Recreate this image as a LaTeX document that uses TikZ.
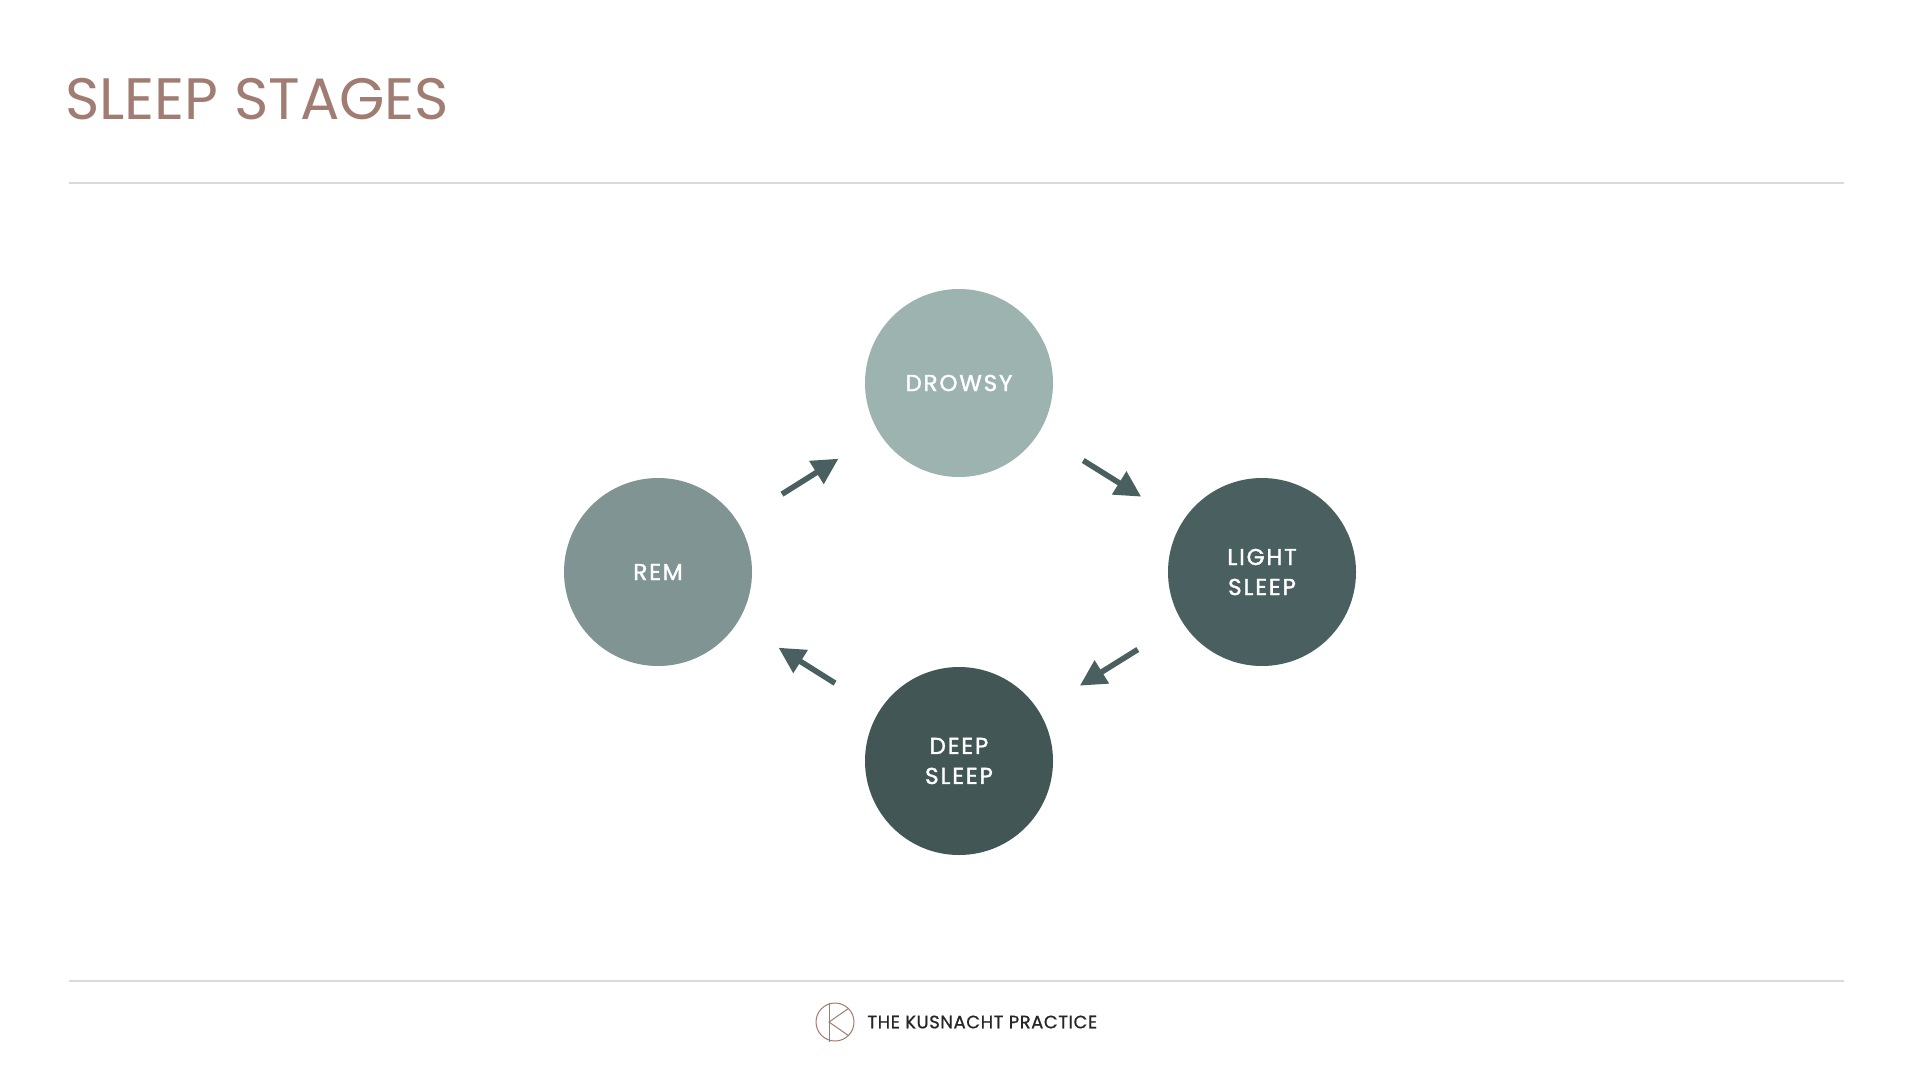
\documentclass[tikz,border=0pt]{standalone}
\usepackage{fontspec}
\setmainfont{Poppins}
\newfontfamily\lsfont[LetterSpace=8,FakeBold=1.6]{Poppins}
\newfontfamily\footfont[FakeBold=0.8,LetterSpace=3]{Poppins}
\usetikzlibrary{arrows.meta}
\definecolor{titlec}{HTML}{A07C72}
\definecolor{cdrowsy}{HTML}{9DB3B0}
\definecolor{crem}{HTML}{7F9493}
\definecolor{clight}{HTML}{4A5F5F}
\definecolor{cdeep}{HTML}{435656}
\definecolor{carrow}{HTML}{4A5F5F}
\definecolor{rulec}{HTML}{D9DADA}
\begin{document}
\begin{tikzpicture}[x=0.5pt,y=-0.5pt,
  stage/.style={circle,minimum size=94pt,inner sep=0pt,text=white,align=center,font=\lsfont\fontsize{11.5}{15}\selectfont},
  flow/.style={draw=carrow,line width=2.8pt,-{Triangle[length=13pt,width=13pt]},shorten <=26pt,shorten >=24pt}]
\useasboundingbox (0,0) rectangle (1920,1066);
\fill[white] (0,0) rectangle (1920,1066);
\node[anchor=base west,text=titlec,font=\fontsize{29.2}{36}\selectfont,inner sep=0pt] (title) at (65,119) {SLEEP STAGES};
\draw[rulec,line width=1.3pt] (69,183) -- (1844,183);
\draw[rulec,line width=1.3pt] (69,981) -- (1844,981);
\node[stage,fill=cdrowsy] (drowsy) at (959,383) {DROWSY};
\node[stage,fill=crem] (rem) at (658,572) {REM};
\node[stage,fill=clight] (light) at (1262,572) {LIGHT\\SLEEP};
\node[stage,fill=cdeep] (deep) at (959,761) {DEEP\\SLEEP};
\draw[flow] (rem) -- (drowsy);
\draw[flow] (drowsy) -- (light);
\draw[flow] (light) -- (deep);
\draw[flow] (deep) -- (rem);
\node[circle,draw=titlec,line width=0.5pt,minimum size=19pt,inner sep=0pt] (logo) at (835,1022) {};
\draw[titlec,line width=0.5pt] ([xshift=-3pt]logo.north) -- ([xshift=-3pt]logo.south);
\draw[titlec,line width=0.5pt] (logo.north east) -- ([xshift=-3pt]logo.center) -- (logo.south east);
\node[anchor=west,font=\footfont\fontsize{9}{12}\selectfont,text=black!85,inner sep=0pt] (brand) at (867,1022) {THE KUSNACHT PRACTICE};
\end{tikzpicture}
\end{document}
